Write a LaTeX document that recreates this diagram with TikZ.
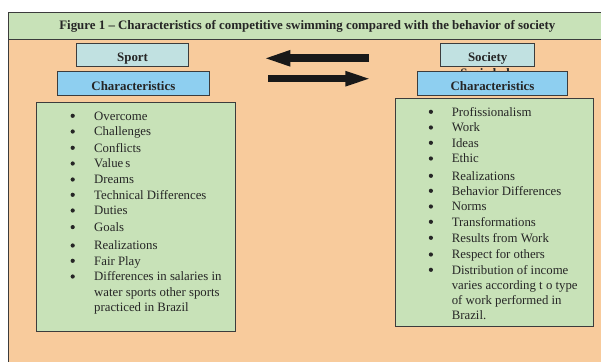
\documentclass[tikz,border=0pt]{standalone}
\usepackage{fontspec}
\setmainfont{Liberation Serif}
\usetikzlibrary{arrows.meta}

\definecolor{panelorange}{HTML}{F8CB9C}
\definecolor{listgreen}{HTML}{C8E2B8}
\definecolor{headcyan}{HTML}{C1E1E1}
\definecolor{charblue}{HTML}{8ECFF0}
\definecolor{edgegray}{HTML}{3C3C3C}
\definecolor{inkgray}{HTML}{262626}

\tikzset{
  box/.style={draw=edgegray,line width=0.9pt,inner sep=0pt},
  boldtext/.style={font=\fontsize{12.9}{15}\selectfont\bfseries,text=inkgray},
  headbox/.style={box,boldtext,fill=headcyan,text height=14pt,text depth=1pt,minimum height=23.4pt},
  charbox/.style={box,boldtext,fill=charblue,text height=14pt,text depth=1pt,minimum height=24pt},
  listbox/.style={box,fill=listgreen,anchor=north west},
  entry/.style={anchor=base west,inner sep=0pt,text=inkgray},
  bulletmark/.style={circle,fill=inkgray,inner sep=0pt,minimum size=4.2pt},
  bigarrow/.style={draw=black!90,line width=8pt,-{Triangle[length=28pt,width=14pt]}}
}

\begin{document}
\begin{tikzpicture}[x=1pt,y=-1pt,font=\fontsize{12.8}{15}\selectfont]
  \useasboundingbox (0,0) rectangle (601,361);
  % background panel
  \fill[panelorange] (8.4,39) rectangle (612,372);
  \draw[edgegray,line width=0.9pt] (8.4,372) -- (8.4,39);
  \node[box,boldtext,fill=listgreen,anchor=north west,minimum width=597,minimum height=26.7,
        text height=8.5pt,text depth=2pt] (title) at (8.4,12.3)
        {Figure 1 -- Characteristics of competitive swimming compared with the behavior of society};

  % sport side
  \node[headbox,minimum width=111.9] (sport) at (132.6,55) {Sport};
  \node[charbox,minimum width=151.8] (sportchar) at (133.4,83.7) {Characteristics};
  \node[listbox,minimum width=198.6,minimum height=229.3] (sportlist) at (36.4,101.7) {};
  \foreach \y/\txt [count=\k] in {120/Overcome, 135.7/Challenges, 152/Conflicts, 167.7/Value\,s,
      183.7/Dreams, 199/Technical Differences, 214.7/Duties, 231.3/Goals, 249.7/Realizations,
      265/Fair Play, 280.7/Differences in salaries in}
  {
    \node[bulletmark] (sb\k) at (72.7,\y-4.2) {};
    \node[entry] (se\k) at (94,\y) {\txt};
  }
  \foreach \y/\txt [count=\k] in {296/water sports other sports, 311.7/practiced in Brazil}
    \node[entry] (sc\k) at (94,\y) {\txt};

  % society side
  \node[headbox,minimum width=93.9] (society) at (487.7,55) {Society};
  \node[boldtext,anchor=base,inner sep=0pt] (sociedade) at (488,77) {Sociedade};
  \node[charbox,minimum width=149.5] (societychar) at (492.5,83.7) {Characteristics};
  \node[listbox,minimum width=198.2,minimum height=228.3] (societylist) at (394.8,97.7) {};
  \foreach \y/\txt [count=\k] in {116/Profissionalism, 131.7/Work, 147/Ideas, 162.7/Ethic,
      180/Realizations, 195/Behavior Differences, 210.7/Norms, 226/Transformations,
      242/Results from Work, 258.7/Respect for others, 274/Distribution of income}
  {
    \node[bulletmark] (tb\k) at (430.9,\y-4.2) {};
    \node[entry] (te\k) at (451.6,\y) {\txt};
  }
  \foreach \y/\txt [count=\k] in {289/varies according t o type, 304.3/of work performed in, 319.3/Brazil.}
    \node[entry] (tc\k) at (451.6,\y) {\txt};

  % arrows between the two sides
  \coordinate (backtail) at (369,58.3);
  \coordinate (backtip) at (262.3,58.3);
  \coordinate (fwdtail) at (268,78.7);
  \coordinate (fwdtip) at (373.3,78.7);
  \draw[bigarrow] (backtail) -- (backtip);
  \draw[bigarrow,line width=7pt,-{Triangle[length=28pt,width=13pt]}] (fwdtail) -- (fwdtip);
\end{tikzpicture}
\end{document}
